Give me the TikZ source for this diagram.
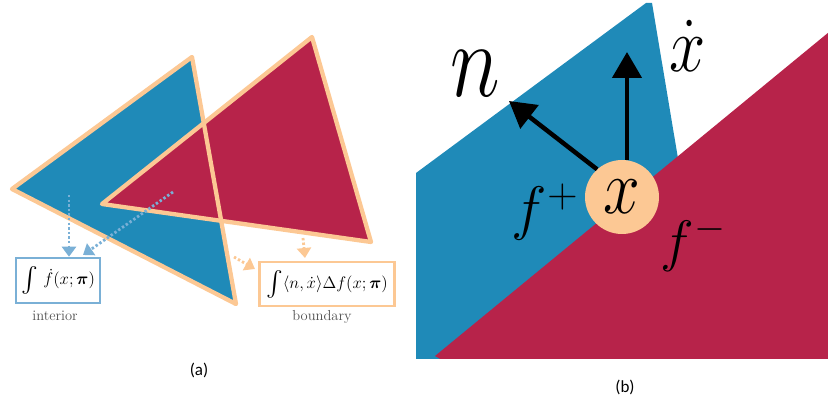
\RequirePackage{fix-cm}
\documentclass[tikz,border=0pt]{standalone}
\usepackage{exscale}
\usepackage{bm}
\usepackage{graphicx}
\usepackage{fontspec}
\newfontfamily\capfont{Carlito}
\usetikzlibrary{arrows.meta}
\definecolor{cblue}{RGB}{31,138,184}
\definecolor{cred}{RGB}{183,35,74}
\definecolor{corange}{RGB}{252,200,148}
\definecolor{cdotblue}{RGB}{122,176,214}
\definecolor{cgray}{RGB}{80,80,80}
\newcommand{\bigint}{\mathop{\vcenter{\hbox{\scalebox{1.45}{$\int$}}}}}
\begin{document}
\begin{tikzpicture}[x=1pt,y=-1pt,
  tri/.style={draw=corange,line width=4.3pt,line join=round},
  dotarrow/.style={line width=2.8pt,dash pattern=on 2.4pt off 2.2pt,
    -{Triangle[length=10pt,width=14pt]}},
  fbox/.style={draw,line width=2.5pt,inner sep=0pt,fill=white,
    font=\fontsize{16.8}{20}\selectfont},
  lab/.style={text=cgray,font=\fontsize{14.5}{16}\selectfont,inner sep=0pt},
  vec/.style={line width=4.5pt,-{Triangle[length=26pt,width=29pt]}},
  subcap/.style={font=\capfont\fontsize{17}{20}\selectfont,inner sep=0pt},
]
\useasboundingbox (0,0) rectangle (828,406);
% ---------- (a) ----------
\coordinate (b1) at (12,189);
\coordinate (b2) at (192,57);
\coordinate (b3) at (236,304);
\coordinate (r1) at (102,204);
\coordinate (r2) at (312,37);
\coordinate (r3) at (371,242);
\fill[cblue] (b1)--(b2)--(b3)--cycle;
\fill[cred] (r1)--(r2)--(r3)--cycle;
\draw[tri] (b1)--(b2)--(b3)--cycle;
\draw[tri] (r1)--(r2)--(r3)--cycle;

\node[fbox,draw=cdotblue,minimum width=84pt,minimum height=45pt] (int) at (58,280.5)
  {$\bigint\,\dot f(x;\bm{\pi})$};
\node[fbox,draw=corange,minimum width=135pt,minimum height=44pt] (bnd) at (327,284)
  {$\bigint\langle n,\dot x\rangle\Delta f(x;\bm{\pi})$};
\node[lab] (intl) at (55,316) {interior};
\node[lab] (bndl) at (322,317) {boundary};

\coordinate (s1) at (69,195);
\coordinate (s2) at (173,192);
\coordinate (t2) at (83,255);
\coordinate (s3) at (234,257);
\coordinate (t3) at (255,269);
\coordinate (s4) at (303,238);
\coordinate (t4) at (305,258);
\draw[dotarrow,cdotblue] (s1) -- (s1 |- int.north);
\draw[dotarrow,cdotblue] (s2) -- (t2);
\draw[dotarrow,corange] (s3) -- (t3);
\draw[dotarrow,corange] (s4) -- (t4);

\node[subcap] (capa) at (199,370) {(a)};

% ---------- (b) ----------
\begin{scope}
\clip (416,3) rectangle (828,358);
\fill[cblue] (416,173) -- (646,3) -- (652,3) -- (700,290) -- (700,360) -- (416,360) -- cycle;
\fill[cred] (435,356) -- (840,23) -- (840,370) -- (460,370) -- cycle;
\end{scope}
\node[circle,fill=corange,minimum size=74pt,inner sep=0pt,
  font=\fontsize{66}{66}\selectfont] (x) at (622,197)
  {\scalebox{1}[1.18]{$x$}};
\coordinate (xd) at (627,52);
\coordinate (nt) at (509,101);
\draw[vec] ([xshift=5pt]x.north) -- (xd);
\draw[vec] (x.132) -- (nt);
\node[font=\fontsize{85}{85}\selectfont,inner sep=0pt] (nlab) at (475,74)
  {\scalebox{1}[1.25]{$n$}};
\node[font=\fontsize{65}{65}\selectfont,inner sep=0pt] (xdlab) at (688,46)
  {\scalebox{1}[1.2]{$\dot x$}};
\node[font=\fontsize{60}{60}\selectfont,inner sep=0pt] (fp) at (545,212) {$f^+$};
\node[font=\fontsize{57}{57}\selectfont,inner sep=0pt] (fm) at (693,244) {$f^-$};
\node[subcap] (capb) at (625,387) {(b)};
\end{tikzpicture}
\end{document}
